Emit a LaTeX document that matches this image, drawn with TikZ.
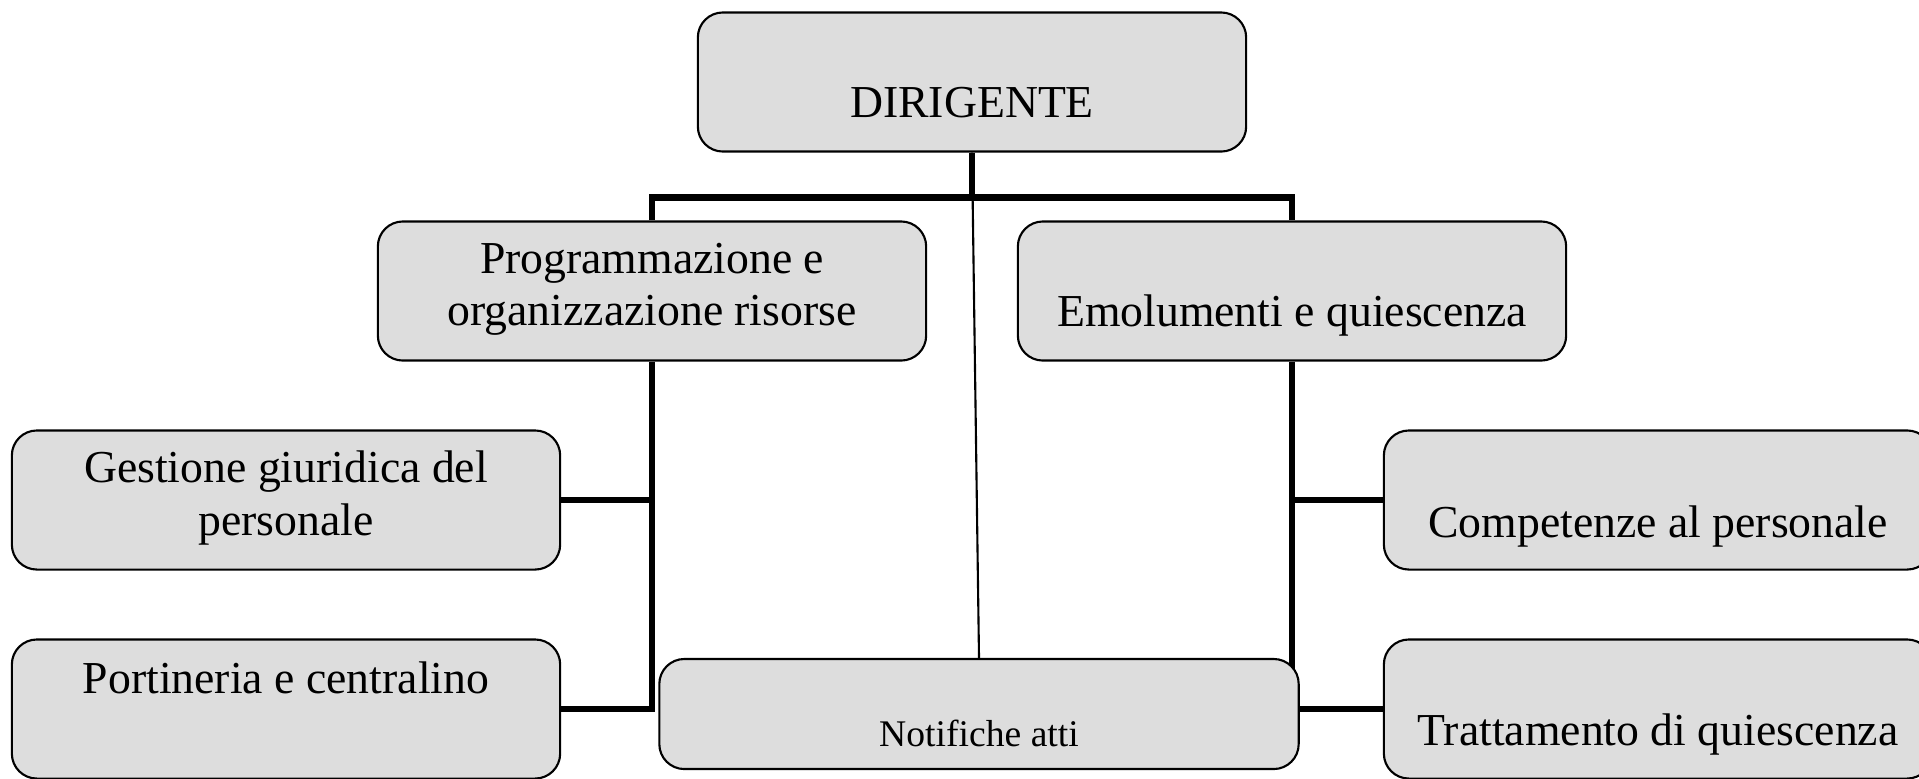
\documentclass[tikz,border=0pt]{standalone}
\usepackage{fontspec}
\setmainfont{Liberation Serif}
\usetikzlibrary{backgrounds}
\definecolor{boxgray}{RGB}{221,221,221}

\begin{document}
\begin{tikzpicture}[x=0.01cm, y=-0.01cm,
		ufficio/.style={draw, line width=0.6pt, fill=boxgray, rounded corners=0.25cm, minimum width=5.48cm, minimum height=1.39cm, inner sep=0pt},
		voce/.style={font=\fontsize{13}{14.8}\selectfont, align=center, inner sep=0pt},
		ramo/.style={line width=1.9pt},
		filo/.style={line width=0.6pt}]
		\useasboundingbox (0,0) rectangle (1919,778);
		% caselle
		\node[ufficio] (dir) at (972,82) {};
		\node[ufficio] (prog) at (652,291) {};
		\node[ufficio] (emol) at (1292,291) {};
		\node[ufficio] (gest) at (286,500) {};
		\node[ufficio] (port) at (286,709) {};
		\node[ufficio] (comp) at (1658,500) {};
		\node[ufficio] (tratt) at (1658,709) {};
		\node[ufficio, minimum width=6.39cm, minimum height=1.1cm] (notif) at (979,714) {};
		% testi
		\node[voce, anchor=base] (dirT) at (972,117) {DIRIGENTE};
		\node[voce] (progT) at (652,289) {Programmazione e\\organizzazione risorse};
		\node[voce, anchor=base] (emolT) at (1292,326) {Emolumenti e quiescenza};
		\node[voce] (gestT) at (286,498) {Gestione giuridica del\\personale};
		\node[voce, anchor=base] (portT) at (286,693) {Portineria e centralino};
		\node[voce, anchor=base] (compT) at (1658,537) {Competenze al personale};
		\node[voce, anchor=base] (trattT) at (1658,745) {Trattamento di quiescenza};
		\node[voce, anchor=base, font=\fontsize{10.7}{13}\selectfont] (notT) at (979,746) {Notifiche atti};
		% collegamenti
		\begin{scope}[on background layer]
			\draw[ramo] (dir.south) -- ++(0,45) coordinate (snodo);
			\draw[ramo] (prog.north) |- (snodo) -| (emol.north);
			\draw[ramo] (gest.east) -| (prog.south);
			\draw[ramo] (prog.south) |- (port.east);
			\draw[ramo] (comp.west) -| (emol.south);
			\draw[ramo] (emol.south) |- (tratt.west);
			\draw[filo] (dir.south) -- (notif.north);
		\end{scope}
	\end{tikzpicture}
\end{document}
